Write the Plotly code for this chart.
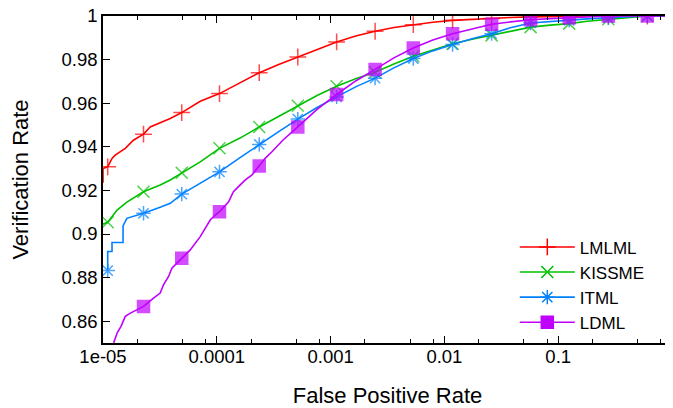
import plotly.graph_objects as go

# ---------------- data ----------------
marker_fpr = [1.10e-5, 2.27e-5, 4.92e-5, 1.056e-4, 2.36e-4, 5.15e-4, 1.13e-3,
              2.46e-3, 5.33e-3, 1.18e-2, 2.60e-2, 5.72e-2, 0.125, 0.276, 0.607]

lmlml_mark_tpr = [0.9308, 0.9458, 0.9557, 0.9644, 0.9740, 0.9812, 0.9881,
                  0.9930, 0.9960, 0.9980, 0.9989, 0.9996, 0.9999, 1.0, 1.0]
kissme_mark_tpr = [0.9054, 0.9194, 0.9281, 0.9393, 0.9491, 0.9588, 0.9678,
                   0.9742, 0.9815, 0.9873, 0.9911, 0.9949, 0.9965, 0.9985, 1.0]
itml_mark_tpr = [0.8832, 0.9095, 0.9183, 0.9285, 0.9411, 0.9527, 0.9629,
                 0.9715, 0.9805, 0.9869, 0.9919, 0.9968, 0.9980, 0.9992, 1.0]
# LDML has no visible marker at the first position (below the axis range)
ldml_mark_fpr = marker_fpr[1:]
ldml_mark_tpr = [0.8668, 0.8889, 0.9102, 0.9312, 0.9491, 0.9640, 0.9755,
                 0.9853, 0.9919, 0.9962, 0.9983, 0.9992, 1.0, 1.0]

lmlml_fpr = [1.0e-5, 1.0e-5, 1.20e-5, 1.28e-5, 1.57e-5, 1.85e-5, 2.60e-5, 3.18e-5,
             3.90e-5, 7.15e-5, 1.60e-4, 3.5e-4, 7.6e-4, 1.66e-3, 3.6e-3, 7.9e-3,
             1.75e-2, 3.8e-2, 8.5e-2, 0.18, 1.0]
lmlml_tpr = [0.9235, 0.9300, 0.9347, 0.9362, 0.9393, 0.9430, 0.9491, 0.9510,
             0.9530, 0.9609, 0.9693, 0.9778, 0.9848, 0.9908, 0.9947, 0.9971,
             0.9985, 0.9993, 0.9998, 1.0, 1.0]

kissme_fpr = [1.0e-5, 1.33e-5, 1.62e-5, 3.18e-5, 3.90e-5, 7.15e-5, 1.6e-4, 3.5e-4,
              7.6e-4, 1.66e-3, 3.6e-3, 7.9e-3, 1.75e-2, 3.8e-2, 8.5e-2, 0.18, 1.0]
kissme_tpr = [0.9045, 0.9110, 0.9146, 0.9225, 0.9248, 0.9331, 0.9440, 0.9540,
              0.9635, 0.9712, 0.9780, 0.9845, 0.9893, 0.9931, 0.9958, 0.9976, 1.0]

itml_fpr = [1.10e-5, 1.20e-5, 1.20e-5, 1.50e-5, 1.50e-5, 1.62e-5, 3.18e-5, 3.90e-5,
            7.15e-5, 1.6e-4, 3.5e-4, 7.6e-4, 1.66e-3, 3.6e-3, 7.9e-3, 1.75e-2,
            3.8e-2, 8.5e-2, 0.18, 1.0]
itml_tpr = [0.8920, 0.8920, 0.8961, 0.8961, 0.9037, 0.9072, 0.9123, 0.9141,
            0.9232, 0.9350, 0.9470, 0.9580, 0.9675, 0.9762, 0.9840, 0.9896,
            0.9946, 0.9975, 0.9987, 1.0]

ldml_fpr = [1.24e-5, 1.33e-5, 1.44e-5, 1.57e-5, 1.74e-5, 1.85e-5, 2.78e-5, 3.18e-5,
            3.40e-5, 3.77e-5, 4.03e-5, 5.84e-5, 7.15e-5, 8.75e-5, 9.68e-5, 1.27e-4,
            1.40e-4, 1.55e-4, 1.78e-4, 2.03e-4, 2.66e-4, 3.05e-4, 3.8e-4, 7.6e-4,
            1.66e-3, 3.6e-3, 7.9e-3, 1.75e-2, 3.8e-2, 8.5e-2, 0.18, 1.0]
ldml_tpr = [0.8500, 0.8546, 0.8576, 0.8622, 0.8637, 0.8645, 0.8706, 0.8729,
            0.8767, 0.8805, 0.8843, 0.8927, 0.8988, 0.9064, 0.9087, 0.9148,
            0.9194, 0.9217, 0.9248, 0.9270, 0.9347, 0.9377, 0.9430, 0.9572,
            0.9702, 0.9808, 0.9890, 0.9942, 0.9973, 0.9988, 0.9997, 1.0]

series_names = ["LMLML", "KISSME", "ITML", "LDML"]

x_tick_vals = [1e-5, 1e-4, 1e-3, 1e-2, 1e-1, 1]
x_tick_text = ["1e-05", "0.0001", "0.001", "0.01", "0.1", "1"]
x_minor_vals = [m * 10.0 ** e for e in range(-5, 0) for m in (2, 5, 8)]
y_tick_vals = [0.86, 0.88, 0.90, 0.92, 0.94, 0.96, 0.98, 1.0]
y_tick_text = ["0.86", "0.88", "0.9", "0.92", "0.94", "0.96", "0.98", "1"]

# ---------------- styles ----------------
colors = ["#ff0000", "#00c000", "#0080ff", "#c000ff"]
symbols = ["cross-thin", "x-thin", "asterisk", "square"]
MSIZE = 12


def merge(lx, ly, mx, my):
    pts = [(x, y, False) for x, y in zip(lx, ly)] + [(x, y, True) for x, y in zip(mx, my)]
    pts.sort(key=lambda p: (p[0], p[1]))
    return [p[0] for p in pts], [p[1] for p in pts], [p[2] for p in pts]


series = [
    (lmlml_fpr, lmlml_tpr, marker_fpr, lmlml_mark_tpr),
    (kissme_fpr, kissme_tpr, marker_fpr, kissme_mark_tpr),
    (itml_fpr, itml_tpr, marker_fpr, itml_mark_tpr),
    (ldml_fpr, ldml_tpr, ldml_mark_fpr, ldml_mark_tpr),
]

FONT = "Liberation Sans, Arial, Helvetica, sans-serif"
fig = go.Figure()
for i, (lx, ly, mx, my) in enumerate(series):
    xs, ys, flags = merge(lx, ly, mx, my)
    sizes = [MSIZE if f else 0 for f in flags]
    fig.add_trace(go.Scatter(
        x=xs, y=ys, mode="lines+markers", name=series_names[i],
        showlegend=False,
        line=dict(color=colors[i], width=1.6),
        marker=dict(symbol=symbols[i], size=sizes, color=colors[i],
                    line=dict(color=colors[i], width=1.5)),
    ))
# legend entries (no data of their own)
for i in range(4):
    fig.add_trace(go.Scatter(
        x=[None], y=[None], mode="lines+markers", name=series_names[i],
        line=dict(color=colors[i], width=1.6),
        marker=dict(symbol=symbols[i], size=MSIZE, color=colors[i],
                    line=dict(color=colors[i], width=1.5)),
    ))

# the page body has an 8px margin, so the figure is offset by 8px
fig.update_layout(
    width=665, height=400,
    margin=dict(l=95, r=1, t=8, b=65),
    paper_bgcolor="white", plot_bgcolor="white",
    font=dict(family=FONT, size=18.5, color="black"),
    showlegend=True,
    legend=dict(x=0.961, y=0.008, xanchor="right", yanchor="bottom",
                bgcolor="rgba(0,0,0,0)", itemwidth=55,
                tracegroupgap=0, font=dict(size=17)),
)
fig.update_xaxes(
    type="log", range=[-5, 0], automargin=False,
    tickmode="array", tickvals=x_tick_vals, ticktext=x_tick_text,
    ticks="inside", ticklen=7, tickwidth=1, tickcolor="black",
    ticklabelstandoff=-4, ticklabeloverflow="allow",
    minor=dict(tickmode="array", tickvals=x_minor_vals, ticks="inside",
               ticklen=4, tickwidth=1, tickcolor="black"),
    showline=True, linecolor="black", linewidth=1.5, mirror="ticks",
    showgrid=False, zeroline=False,
    title=dict(text="False Positive Rate", standoff=24),
)
fig.update_yaxes(
    range=[0.85, 1.0], automargin=False,
    tickmode="array", tickvals=y_tick_vals, ticktext=y_tick_text,
    ticks="inside", ticklen=7, tickwidth=1, tickcolor="black",
    ticklabeloverflow="allow",
    showline=True, linecolor="black", linewidth=1.5, mirror="ticks",
    showgrid=False, zeroline=False,
    title=dict(text="Verification Rate", standoff=32),
)

fig.write_html("out.html")
